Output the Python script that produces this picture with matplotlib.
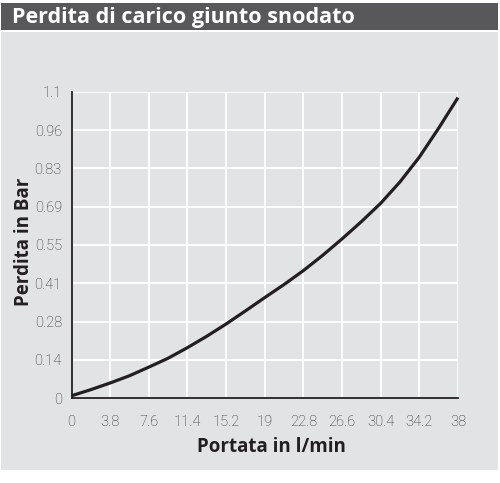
import matplotlib
matplotlib.use("Agg")
import matplotlib.pyplot as plt
from matplotlib.patches import Rectangle
import numpy as np

title = "Perdita di carico giunto snodato"
x_label = "Portata in l/min"
y_label = "Perdita in Bar"

flow = [0, 1.9, 3.8, 5.7, 7.6, 9.5, 11.4, 13.3, 15.2, 17.1, 19,
        20.9, 22.8, 24.7, 26.6, 28.5, 30.4, 32.3, 34.2, 36.1, 38]
loss = [0.008, 0.030, 0.054, 0.080, 0.111, 0.143, 0.181, 0.222, 0.266, 0.313, 0.361,
        0.408, 0.458, 0.513, 0.572, 0.634, 0.700, 0.777, 0.866, 0.970, 1.08]

x_tick_labels = ["0", "3.8", "7.6", "11.4", "15.2", "19", "22.8", "26.6", "30.4", "34.2", "38"]
y_tick_labels = ["0", "0.14", "0.28", "0.41", "0.55", "0.69", "0.83", "0.96", "1.1"]

W, H = 500, 483
fig = plt.figure(figsize=(W / 100, H / 100), dpi=100)
fig.patch.set_facecolor("white")

panel = "#e2e3e5"
fig.patches.append(Rectangle((1 / W, 1 - 470 / H), 497 / W, (470 - 32) / H,
                             transform=fig.transFigure, facecolor=panel,
                             edgecolor="none", zorder=-10))
fig.patches.append(Rectangle((1 / W, 1 - 30 / H), 497 / W, 27 / H,
                             transform=fig.transFigure, facecolor="#58585a",
                             edgecolor="none", zorder=-10))
fig.text(12 / W, 1 - 17 / H, title, color="white", fontsize=15.5,
         fontweight="bold", family="Open Sans", va="center", ha="left")

ax = fig.add_axes([71.5 / W, 1 - 398 / H, (458 - 71.5) / W, (398 - 92) / H])
ax.set_zorder(1)
ax.set_facecolor(panel)

xmax = 38
ymax = 1.1
ax.set_xlim(0, xmax)
ax.set_ylim(0, ymax)

xt = np.linspace(0, xmax, len(x_tick_labels))
yt = np.linspace(0, ymax, len(y_tick_labels))
ax.set_xticks(xt)
ax.set_xticklabels(x_tick_labels)
ax.set_yticks(yt)
ax.set_yticklabels(y_tick_labels)

ax.grid(True, color="white", linewidth=1.3)
ax.set_axisbelow(True)
for s in ["top", "right"]:
    ax.spines[s].set_visible(False)
for s in ["left", "bottom"]:
    ax.spines[s].set_color("#231f20")
    ax.spines[s].set_linewidth(1.3)

ax.tick_params(length=0, labelsize=10.5, labelcolor="#2b2b2b")
ax.tick_params(axis="x", pad=12)
ax.tick_params(axis="y", pad=7)
for lab in ax.get_xticklabels() + ax.get_yticklabels():
    lab.set_family("Roboto")
    lab.set_fontweight("light")

ax.plot(flow, loss, color="#231f20", linewidth=2.3, solid_capstyle="butt", clip_on=False)

ax.set_xlabel(x_label, fontsize=13.5, fontweight="bold", family="Open Sans",
              color="#231f20")
ax.xaxis.label.set_va("center")
ax.xaxis.set_label_coords((271 - 71.5) / 386.5, (398 - 446.5) / 306)
ax.set_ylabel(y_label, fontsize=13.5, fontweight="bold", family="Open Sans",
              color="#231f20")
ax.yaxis.label.set_va("center")
ax.yaxis.set_label_coords((24 - 71.5) / 386.5, (398 - 241.5) / 306)

fig.savefig("out.png", dpi=100, facecolor=fig.get_facecolor())
